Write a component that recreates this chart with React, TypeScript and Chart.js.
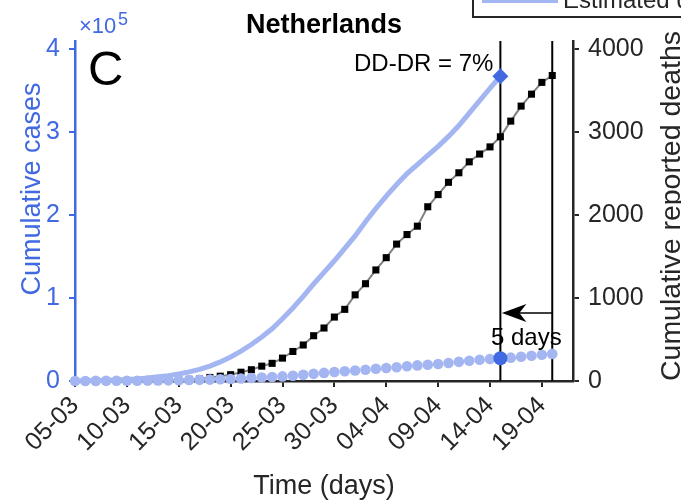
import React, { useEffect, useRef } from 'react';
import { Chart, registerables } from 'chart.js';

Chart.register(...registerables);

// ---- data ----
const dates = [
  '05-03', '06-03', '07-03', '08-03', '09-03', '10-03', '11-03', '12-03', '13-03', '14-03',
  '15-03', '16-03', '17-03', '18-03', '19-03', '20-03', '21-03', '22-03', '23-03', '24-03',
  '25-03', '26-03', '27-03', '28-03', '29-03', '30-03', '31-03', '01-04', '02-04', '03-04',
  '04-04', '05-04', '06-04', '07-04', '08-04', '09-04', '10-04', '11-04', '12-04', '13-04',
  '14-04', '15-04', '16-04', '17-04', '18-04', '19-04', '20-04', '21-04', '22-04',
];
const tickDates = ['05-03', '10-03', '15-03', '20-03', '25-03', '30-03', '04-04', '09-04', '14-04', '19-04'];
const caseTicks = [0, 100000, 200000, 300000, 400000];
const deathTicks = [0, 1000, 2000, 3000, 4000];
const caseMax = 410000;
const deathMax = 4100;

// cumulative reported cases (light blue dots), from 05-03
const reportedCases = [
  38, 82, 128, 188, 265, 321, 382, 503, 614, 804, 959, 1135, 1413, 1705, 2051, 2460,
  2994, 3631, 4204, 4749, 5560, 6412, 7431, 8603, 9762, 10866, 11750, 12595, 13614,
  14697, 15723, 16627, 17851, 18803, 19580, 20549, 21762, 23097, 24413, 25587, 26551,
  27419, 28153, 29214, 30449, 31589, 32655,
];
// cumulative reported deaths (black squares), from 05-03
const reportedDeaths = [
  0, 0, 1, 1, 3, 3, 4, 5, 5, 10, 12, 20, 24, 43, 58, 76, 106, 136, 179, 213, 276, 356,
  434, 546, 639, 771, 864, 1039, 1173, 1339, 1487, 1651, 1766, 1867, 2101, 2248, 2396,
  2511, 2643, 2737, 2823, 2945, 3134, 3315, 3459, 3601, 3684,
];
// estimated deaths (thick light blue line), from 05-03
const estimatedDeaths = [
  0, 2, 5, 8, 12, 18, 25, 35, 50, 65, 85, 110, 140, 180, 230, 290, 360, 440, 530, 630,
  750, 880, 1020, 1170, 1310, 1450, 1600, 1750, 1920, 2080, 2230, 2370, 2500, 2610, 2720,
  2830, 2950, 3080, 3230, 3380, 3530, 3675,
];
const ddDate = '15-04';
const drDate = '20-04';
const ratioLabel = 'DD-DR = 7%';
const arrowLevel = 820; // deaths-axis level of the arrow
const gapTextLevel = 440; // deaths-axis level of the "5 days" baseline

const ROYAL = '#4169e1';
const LIGHT = '#a3b6f1';
const DARK = '#262626';
const FONT = '"Liberation Sans", Arial, Helvetica, sans-serif';

const xy = (arr: number[]) => arr.map((v, i) => ({ x: i, y: v }));

const overlay = {
  id: 'overlay',
  afterDatasetsDraw(chart: any) {
    const { ctx, scales, chartArea } = chart;
    const x = scales.x;
    const yD = scales.yD;
    const ddI = dates.indexOf(ddDate);
    const drI = dates.indexOf(drDate);
    const xDD = x.getPixelForValue(ddI);
    const xDR = x.getPixelForValue(drI);
    const yA = yD.getPixelForValue(arrowLevel);
    ctx.save();
    ctx.strokeStyle = '#000';
    ctx.lineWidth = 1.5;
    ctx.beginPath();
    ctx.moveTo(xDR, yA);
    ctx.lineTo(xDD + 15, yA);
    ctx.stroke();
    ctx.fillStyle = '#000';
    ctx.beginPath();
    ctx.moveTo(xDD + 1.5, yA);
    ctx.lineTo(xDD + 26, yA - 9);
    ctx.lineTo(xDD + 19, yA);
    ctx.lineTo(xDD + 26, yA + 9);
    ctx.closePath();
    ctx.fill();

    ctx.font = `24px ${FONT}`;
    ctx.fillStyle = '#000';
    ctx.textBaseline = 'alphabetic';
    ctx.textAlign = 'center';
    ctx.fillText(`${drI - ddI} days`, (xDD + xDR) / 2, yD.getPixelForValue(gapTextLevel));
    ctx.textAlign = 'right';
    ctx.fillText(ratioLabel, xDD - 7, chartArea.top + 30);
    ctx.restore();
  },
  afterDraw(chart: any) {
    const { ctx, chartArea } = chart;
    ctx.save();
    // panel letter
    ctx.fillStyle = '#000';
    ctx.textBaseline = 'alphabetic';
    ctx.textAlign = 'left';
    ctx.font = `49px ${FONT}`;
    ctx.fillText('C', chartArea.left + 13, chartArea.top + 44);
    // exponent
    ctx.fillStyle = ROYAL;
    ctx.font = `22px ${FONT}`;
    ctx.fillText('\u00d710', chartArea.left + 4, chartArea.top - 8);
    ctx.font = `18px ${FONT}`;
    ctx.fillText('5', chartArea.left + 43, chartArea.top - 16);
    ctx.restore();

    // left axis title (reads bottom to top)
    ctx.save();
    ctx.fillStyle = ROYAL;
    ctx.font = `27px ${FONT}`;
    ctx.textAlign = 'center';
    ctx.textBaseline = 'middle';
    ctx.translate(33, 189);
    ctx.rotate(-Math.PI / 2);
    ctx.fillText('Cumulative cases', 0, 0);
    ctx.restore();

    // right axis title (reads bottom to top)
    ctx.save();
    ctx.fillStyle = DARK;
    ctx.font = `28.5px ${FONT}`;
    ctx.textAlign = 'center';
    ctx.textBaseline = 'middle';
    ctx.translate(672, 206);
    ctx.rotate(-Math.PI / 2);
    ctx.fillText('Cumulative reported deaths', 0, 0);
    ctx.restore();

    // legend box (clipped at the top of the figure)
    ctx.save();
    ctx.strokeStyle = DARK;
    ctx.lineWidth = 2;
    ctx.strokeRect(473, -30, 260, 47);
    ctx.strokeStyle = LIGHT;
    ctx.lineWidth = 4;
    ctx.beginPath();
    ctx.moveTo(482, 1);
    ctx.lineTo(558, 1);
    ctx.stroke();
    ctx.fillStyle = DARK;
    ctx.font = `24px ${FONT}`;
    ctx.textAlign = 'left';
    ctx.textBaseline = 'alphabetic';
    ctx.fillText('Estimated deaths', 563, 8);
    ctx.restore();
  },
};

export default function App() {
  const ref = useRef<HTMLCanvasElement>(null);
  useEffect(() => {
    const ddI = dates.indexOf(ddDate);
    const drI = dates.indexOf(drDate);
    const chart = new Chart(ref.current as HTMLCanvasElement, {
      type: 'line',
      data: {
        datasets: [
          {
            label: 'Estimated at DD',
            data: [{ x: ddI, y: estimatedDeaths[ddI] }],
            yAxisID: 'yD',
            showLine: false,
            pointStyle: 'rectRot',
            pointRadius: 8,
            pointBackgroundColor: ROYAL,
            pointBorderWidth: 0,
            order: 0,
            clip: false,
          },
          {
            label: 'Cases at DD',
            data: [{ x: ddI, y: reportedCases[ddI] }],
            yAxisID: 'yC',
            showLine: false,
            pointRadius: 7,
            pointBackgroundColor: ROYAL,
            pointBorderWidth: 0,
            order: 1,
            clip: false,
          },
          {
            label: 'Estimated deaths',
            data: xy(estimatedDeaths),
            yAxisID: 'yD',
            borderColor: LIGHT,
            borderWidth: 5,
            pointRadius: 0,
            tension: 0,
            order: 2,
            clip: false,
          },
          {
            label: 'Cumulative cases',
            data: xy(reportedCases),
            yAxisID: 'yC',
            showLine: false,
            pointRadius: 5.3,
            pointBackgroundColor: LIGHT,
            pointBorderWidth: 0,
            order: 3,
            clip: false,
          },
          {
            label: 'Cumulative reported deaths',
            data: xy(reportedDeaths),
            yAxisID: 'yD',
            borderColor: '#808080',
            borderWidth: 2,
            pointStyle: 'rect',
            pointRadius: 5,
            pointBackgroundColor: '#000',
            pointBorderWidth: 0,
            order: 4,
            clip: false,
          },
          {
            label: 'DD',
            data: [{ x: ddI, y: 0 }, { x: ddI, y: deathMax }],
            yAxisID: 'yD',
            borderColor: '#000',
            borderWidth: 2,
            pointRadius: 0,
            order: 5,
          },
          {
            label: 'DR',
            data: [{ x: drI, y: 0 }, { x: drI, y: deathMax }],
            yAxisID: 'yD',
            borderColor: '#000',
            borderWidth: 2,
            pointRadius: 0,
            order: 5,
          },
        ],
      },
      options: {
        responsive: false,
        animation: false,
        events: [],
        layout: { padding: 0 },
        font: { family: FONT },
        plugins: {
          legend: { display: false },
          tooltip: { enabled: false },
          title: {
            display: true,
            text: 'Netherlands',
            fullSize: false,
            color: '#000',
            font: { family: FONT, size: 27, weight: 'bold', lineHeight: 1 },
            padding: { top: 12.5, bottom: 1.5 },
          },
        },
        scales: {
          x: {
            type: 'linear',
            position: 'bottom',
            min: 0,
            max: dates.length - 1,
            afterBuildTicks: (s: any) => {
              s.ticks = tickDates.map((d) => ({ value: dates.indexOf(d) }));
            },
            afterFit: (s: any) => {
              s.height = 123;
            },
            ticks: {
              autoSkip: false,
              maxRotation: 45,
              minRotation: 45,
              padding: 4,
              color: DARK,
              font: { family: FONT, size: 25 },
              callback: (v: any) => dates[v],
            },
            grid: { drawOnChartArea: false, drawTicks: true, tickLength: 6, color: DARK, lineWidth: 2 },
            border: { display: true, color: DARK, width: 2.5 },
            title: {
              display: true,
              text: 'Time (days)',
              color: DARK,
              font: { family: FONT, size: 27 },
              padding: { top: 0, bottom: 1 },
            },
          },
          yC: {
            type: 'linear',
            position: 'left',
            min: 0,
            max: caseMax,
            afterBuildTicks: (s: any) => {
              s.ticks = caseTicks.map((v) => ({ value: v }));
            },
            afterFit: (s: any) => {
              s.width = 75;
            },
            ticks: {
              padding: 9,
              color: ROYAL,
              font: { family: FONT, size: 25 },
              callback: (v: any) => String(v / 100000),
            },
            grid: { drawOnChartArea: false, drawTicks: true, tickLength: 6, color: ROYAL, lineWidth: 2 },
            border: { display: true, color: ROYAL, width: 2.5 },
          },
          yD: {
            type: 'linear',
            position: 'right',
            min: 0,
            max: deathMax,
            afterBuildTicks: (s: any) => {
              s.ticks = deathTicks.map((v) => ({ value: v }));
            },
            afterFit: (s: any) => {
              s.width = 108;
            },
            ticks: {
              padding: 9,
              color: DARK,
              font: { family: FONT, size: 25 },
              callback: (v: any) => String(v),
            },
            grid: { drawOnChartArea: false, drawTicks: true, tickLength: 6, color: DARK, lineWidth: 2 },
            border: { display: true, color: DARK, width: 2.5 },
          },
        },
      },
      plugins: [overlay],
    } as any);
    return () => chart.destroy();
  }, []);

  return (
    <div style={{ position: 'fixed', left: 0, top: 0, width: 681, height: 504, background: '#fff' }}>
      <canvas ref={ref} width={681} height={504} style={{ display: 'block' }} />
    </div>
  );
}
